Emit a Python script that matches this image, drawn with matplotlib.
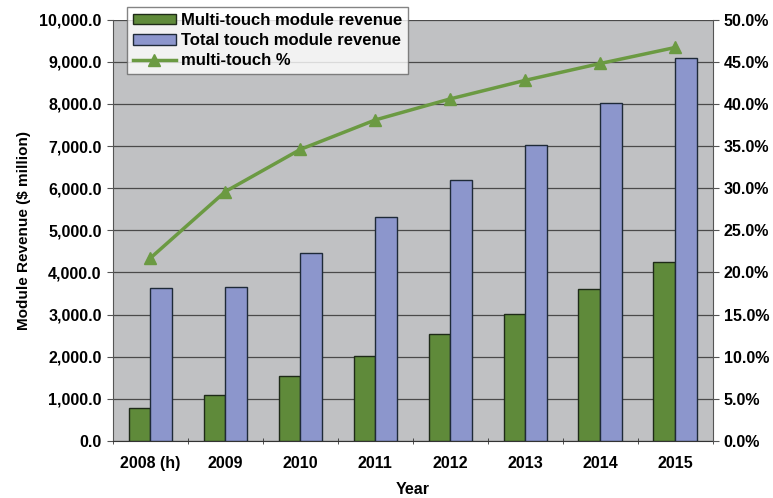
import matplotlib
matplotlib.use("Agg")
import matplotlib.pyplot as plt
import numpy as np
from matplotlib.ticker import FuncFormatter, FixedLocator

plt.rcParams['font.family'] = ['Liberation Sans', 'DejaVu Sans']
plt.rcParams['font.weight'] = 'bold'

years = ["2008 (h)", "2009", "2010", "2011", "2012", "2013", "2014", "2015"]
multi_touch = [790, 1090, 1545, 2020, 2540, 3020, 3610, 4250]
total_touch = [3630, 3660, 4465, 5320, 6200, 7030, 8030, 9100]
multi_pct = [21.7, 29.6, 34.6, 38.1, 40.6, 42.8, 44.8, 46.7]

green = '#5f8a3a'
blue = '#8c96cc'
line_green = '#6b9a42'

fig = plt.figure(figsize=(7.73, 4.98), dpi=100)
ax = fig.add_axes([0.146, 0.1145, 0.776, 0.846])
ax.set_facecolor('#c0c1c3')

x = np.arange(len(years))
w = 0.29
b1 = ax.bar(x - w/2, multi_touch, w, color=green, edgecolor='#1e2a18', linewidth=1.0, zorder=3,
            label='Multi-touch module revenue')
b2 = ax.bar(x + w/2, total_touch, w, color=blue, edgecolor='#1e2a38', linewidth=1.0, zorder=3,
            label='Total touch module revenue')

ax.set_xlim(-0.5, len(years) - 0.5)
ax.set_ylim(0, 10000)
ax.set_yticks(np.arange(0, 10001, 1000))
ax.yaxis.set_major_formatter(FuncFormatter(lambda v, p: f"{v:,.1f}"))
ax.grid(axis='y', color='#4a4a4a', linewidth=0.9, zorder=1)
ax.set_xticks(x)
ax.set_xticklabels(years)
ax.xaxis.set_minor_locator(FixedLocator(np.arange(-0.5, len(years), 1)))
ax.tick_params(axis='x', which='major', length=0, pad=11, labelsize=11.5)
ax.tick_params(axis='x', which='minor', length=5, direction='inout', color='#333333')
ax.tick_params(axis='y', length=4, color='#555555', labelsize=11.5, pad=4)
for s in ['top', 'right']:
    ax.spines[s].set_visible(False)
ax.spines['left'].set_color('#555555')
ax.spines['bottom'].set_color('#333333')
ax.set_ylabel('Module Revenue ($ million)', fontsize=11, fontweight='bold', labelpad=6)
ax.set_xlabel('Year', fontsize=11.5, fontweight='bold', labelpad=8)

ax2 = ax.twinx()
ax2.set_ylim(0, 50)
ax2.set_yticks(np.arange(0, 50.1, 5))
ax2.yaxis.set_major_formatter(FuncFormatter(lambda v, p: f"{v:.1f}%"))
ln, = ax2.plot(x, multi_pct, color=line_green, linewidth=2.5, marker='^', markersize=8,
               markerfacecolor=line_green, markeredgecolor=line_green, label='multi-touch %', zorder=4)
ax2.tick_params(axis='y', length=4, color='#555555', labelsize=11.5, pad=4)
for s in ['top', 'left', 'bottom']:
    ax2.spines[s].set_visible(False)
ax2.spines['right'].set_color('#555555')

leg = fig.legend([b1, b2, ln], ['Multi-touch module revenue', 'Total touch module revenue', 'multi-touch %'],
                 loc='upper left', bbox_to_anchor=(0.164, 0.986), frameon=True, fancybox=False,
                 edgecolor='#666666', fontsize=12, handlelength=2.6, handleheight=0.6,
                 borderpad=0.35, labelspacing=0.32, handletextpad=0.3, borderaxespad=0)
leg.get_frame().set_linewidth(1.0)
for t in leg.get_texts():
    t.set_fontweight('bold')

fig.savefig('out.png', dpi=100)
